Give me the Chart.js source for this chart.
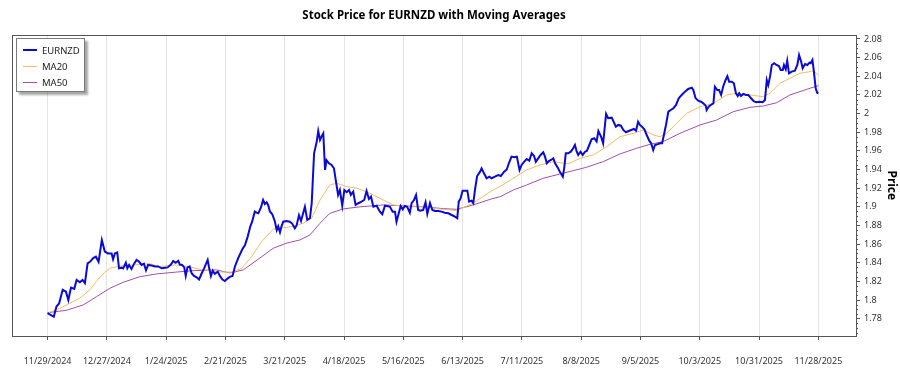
<!DOCTYPE html>
<html><head><meta charset="utf-8">
<script src="https://cdn.jsdelivr.net/npm/chart.js@4.4.1/dist/chart.umd.min.js"></script>
<style>
html,body{margin:0;padding:0;background:#fff;}
#wrap{position:relative;width:900px;height:375px;}
#legend{position:absolute;left:16px;top:38px;width:69px;height:54px;border:1px solid #7a7a7a;background:#fff;box-shadow:3px 3px 2px rgba(0,0,0,0.35);font:9.5px 'Noto Sans',sans-serif;color:#222;box-sizing:border-box;padding:3px 0 0 6px}
.item{display:flex;align-items:center;height:16px;white-space:nowrap}
.swatch{width:14px;margin-right:5px}
</style></head><body>
<div id="wrap"><canvas id="c" width="900" height="375"></canvas><div id="legend"></div></div>
<script>
const TITLE = 'Stock Price for EURNZD with Moving Averages';
const tickLabels = ['11/29/2024','12/27/2024','1/24/2025','2/21/2025','3/21/2025','4/18/2025','5/16/2025','6/13/2025','7/11/2025','8/8/2025','9/5/2025','10/3/2025','10/31/2025','11/28/2025'];
const tickDays = [0,20,40,60,80,100,120,140,160,180,200,220,240,260];
const yTicks = [1.78,1.8,1.82,1.84,1.86,1.88,1.9,1.92,1.94,1.96,1.98,2,2.02,2.04,2.06,2.08];

// trading-day index (0 = 11/29/2024) and EURNZD close
const priceDays = [0,2.1,3.0,3.9,5.1,6.2,7.0,7.9,9.0,9.8,10.9,11.8,12.6,13.5,14.3,15.4,16.3,17.2,18.3,19.3,20.4,21.6,22.1,22.7,23.5,24.1,25.0,25.5,26.4,26.9,27.5,28.3,29.2,30.0,30.9,31.7,32.5,33.2,33.9,35.1,36.2,37.3,38.5,39.6,40.5,41.6,42.4,43.2,44.1,44.6,45.4,46.1,46.6,47.2,47.9,48.6,49.4,50.3,51.1,52.0,52.8,54.0,54.4,55.1,55.7,56.4,57.4,58.1,59.0,59.8,60.7,61.6,62.4,63.2,64.3,65.7,66.6,67.5,68.4,69.0,69.9,70.5,71.1,72.0,72.7,73.3,73.9,74.4,75.0,75.8,76.7,77.3,77.8,78.4,78.9,79.5,80.6,81.7,82.5,83.4,84.0,84.8,85.5,86.2,86.8,87.6,88.5,89.1,89.9,90.8,91.3,91.9,92.4,93.0,93.6,94.1,94.9,95.8,96.6,97.2,98.0,98.6,99.4,100.1,100.9,101.7,102.3,103.1,103.9,104.8,105.9,106.8,107.6,108.4,109.1,109.9,111.0,112.1,112.9,113.8,114.6,115.5,116.4,117.2,117.7,118.4,119.1,119.8,120.5,121.3,122.2,122.8,123.6,124.3,125.0,125.8,126.7,127.5,128.1,129.0,129.8,130.7,131.8,132.9,134.0,135.2,136.3,137.4,138.2,138.7,139.3,140.0,140.9,141.6,142.2,143.0,143.6,144.2,144.9,145.9,146.4,147.2,148.1,149.0,149.8,150.9,152.0,152.9,154.0,154.9,155.6,156.5,157.4,158.3,159.2,159.9,160.8,161.6,162.5,163.3,164.1,164.7,165.5,166.3,167.2,167.8,168.4,169.1,169.8,170.6,171.2,172.1,172.8,173.8,174.3,174.8,175.6,176.5,177.3,177.9,178.5,179.0,179.8,180.5,181.3,181.9,182.6,183.5,184.4,185.2,185.8,186.7,187.4,188.4,189.1,190.3,191.7,192.5,193.4,194.2,195.1,196.0,196.9,197.8,198.5,199.2,199.8,200.5,201.3,202.1,203.0,203.6,204.3,204.9,205.7,206.6,207.3,207.9,208.6,209.4,210.2,211.1,212.0,212.9,213.9,215.0,216.1,217.3,217.8,218.6,219.5,220.4,221.2,222.0,222.3,223.0,223.7,224.6,225.1,225.9,226.5,227.2,227.9,228.7,229.3,229.9,230.8,231.5,232.2,232.8,233.3,233.9,234.7,235.6,236.4,237.3,238.1,239.0,240.1,241.2,242.0,242.6,243.1,243.7,244.3,245.1,245.9,246.7,247.3,248.0,248.4,249.0,249.5,250.1,251.0,252.1,252.9,253.5,254.2,254.7,255.5,256.3,257.0,257.4,258.0,258.5,259.1,259.6,260.0];
const priceValues = [1.786,1.782,1.793,1.7965,1.811,1.809,1.800,1.8134,1.812,1.8215,1.819,1.8215,1.818,1.8394,1.841,1.845,1.8465,1.841,1.8644,1.852,1.850,1.850,1.8437,1.850,1.851,1.834,1.8347,1.834,1.840,1.834,1.8376,1.8333,1.839,1.843,1.841,1.8376,1.839,1.832,1.8376,1.837,1.836,1.836,1.834,1.8347,1.835,1.838,1.842,1.840,1.842,1.838,1.8376,1.835,1.8258,1.835,1.836,1.8287,1.8258,1.8244,1.822,1.8287,1.834,1.843,1.836,1.8258,1.8315,1.828,1.8304,1.8258,1.822,1.8204,1.823,1.8251,1.8258,1.836,1.845,1.8545,1.859,1.868,1.879,1.884,1.8948,1.8937,1.893,1.8995,1.9073,1.903,1.9048,1.902,1.895,1.892,1.884,1.875,1.879,1.8727,1.879,1.884,1.8848,1.884,1.882,1.877,1.880,1.891,1.8848,1.893,1.900,1.886,1.8877,1.904,1.9574,1.970,1.9813,1.9717,1.9752,1.9788,1.9395,1.950,1.9467,1.9449,1.9413,1.9288,1.9127,1.918,1.9012,1.918,1.9156,1.918,1.9127,1.9162,1.902,1.9038,1.9055,1.9073,1.917,1.9084,1.9109,1.900,1.9012,1.8948,1.892,1.9012,1.9009,1.900,1.8948,1.8948,1.884,1.8923,1.9009,1.8973,1.9009,1.900,1.8937,1.904,1.9073,1.9127,1.8966,1.8958,1.8966,1.9048,1.8923,1.904,1.8966,1.8955,1.8955,1.8948,1.8937,1.893,1.8912,1.8894,1.8877,1.9055,1.909,1.9173,1.9173,1.9173,1.9055,1.9066,1.904,1.9188,1.933,1.9377,1.9413,1.936,1.9306,1.9323,1.9306,1.9323,1.9341,1.933,1.9377,1.940,1.9467,1.9538,1.9531,1.9538,1.9395,1.9449,1.9484,1.9513,1.9495,1.9574,1.9545,1.9484,1.952,1.9556,1.9585,1.9538,1.9467,1.9491,1.9502,1.952,1.9467,1.942,1.9377,1.9323,1.9423,1.9574,1.9574,1.9591,1.9627,1.9663,1.9591,1.9556,1.9591,1.9556,1.9591,1.9599,1.9652,1.9724,1.9735,1.970,1.9813,1.9752,1.9681,1.9996,1.995,1.9956,1.986,1.9878,1.987,1.9824,1.980,1.9813,1.9824,1.9835,1.9816,1.9913,1.9878,1.986,1.9831,1.977,1.9706,1.9681,1.9609,1.9663,1.967,1.9681,1.9681,1.977,1.9878,2.002,2.0038,2.0057,2.0092,2.0164,2.020,2.0235,2.0264,2.0278,2.0253,2.0164,2.0138,2.0127,2.011,2.0085,2.0038,2.0074,2.0092,2.011,2.0288,2.0253,2.0253,2.020,2.029,2.036,2.040,2.0342,2.0342,2.0325,2.0218,2.0189,2.0218,2.0189,2.021,2.020,2.020,2.0164,2.0135,2.0121,2.0127,2.0121,2.0146,2.036,2.0307,2.0396,2.0521,2.054,2.0521,2.051,2.0467,2.0467,2.0521,2.0475,2.0567,2.0432,2.045,2.046,2.0521,2.0628,2.0557,2.0486,2.0532,2.0521,2.0546,2.054,2.0575,2.045,2.0271,2.0224,2.0218];

const ma20Days = [0,4.1,7.5,10.9,14.3,16.5,19.3,21.0,24.4,28.9,34.5,37.9,42.9,47.4,52.0,55.8,58.7,62.1,65.5,68.8,72.2,76.1,78.4,82.9,86.2,89.1,91.9,95.2,97.5,100.9,104.3,108.7,113.2,116.6,121.1,126.7,131.2,135.7,138.0,143.6,149.3,152.7,157.1,161.6,166.1,170.6,174.0,176.2,179.6,184.1,188.6,193.1,197.6,200.9,204.3,206.6,208.8,212.2,215.6,220.1,224.6,229.1,232.5,236.9,241.4,243.7,247.1,250.4,253.8,257.2,258.3,260];
const ma20Values = [1.786,1.791,1.7965,1.802,1.811,1.820,1.830,1.834,1.8365,1.8376,1.839,1.836,1.8376,1.836,1.8323,1.8315,1.830,1.830,1.834,1.8465,1.8626,1.876,1.877,1.879,1.8823,1.8877,1.9073,1.9234,1.9252,1.9216,1.920,1.9145,1.9073,1.902,1.900,1.900,1.898,1.8966,1.8958,1.904,1.9162,1.922,1.9306,1.9395,1.9449,1.9484,1.9467,1.9467,1.952,1.9556,1.9645,1.9752,1.9788,1.9824,1.977,1.9752,1.9788,1.9896,2.0003,2.0074,2.011,2.020,2.0218,2.020,2.0181,2.0218,2.0325,2.0379,2.0432,2.045,2.046,2.0414];

const ma50Days = [0,6.4,12.0,16.5,21.0,25.5,31.1,36.8,43.5,49.1,57.0,61.5,66.0,71.6,76.1,80.6,85.1,88.5,91.9,95.2,99.7,105.4,113.2,118.9,126.7,133.5,138.0,143.6,149.3,152.7,157.1,161.6,167.2,172.8,177.3,181.8,187.4,193.1,198.7,203.2,207.7,213.3,220.1,225.7,231.3,236.9,241.4,246.0,250.4,256.1,260];
const ma50Values = [1.7864,1.789,1.7947,1.8036,1.8126,1.819,1.825,1.828,1.830,1.8315,1.8323,1.829,1.8323,1.845,1.8555,1.861,1.8644,1.8698,1.8823,1.893,1.8977,1.900,1.902,1.9012,1.900,1.898,1.8973,1.902,1.908,1.9109,1.918,1.9234,1.9306,1.9352,1.9387,1.9424,1.9484,1.9567,1.9628,1.967,1.970,1.9788,1.9878,1.9931,2.002,2.0067,2.0081,2.0117,2.020,2.026,2.030];

const FONT = "'Noto Sans', 'DejaVu Sans', sans-serif";
Chart.defaults.font.family = FONT;

const pts = (xs, ys) => xs.map((x, i) => ({x, y: ys[i]}));

const frame = {
  id: 'frame',
  afterDraw(chart) {
    const {ctx, chartArea: a} = chart;
    const y = chart.scales.y;
    ctx.save();
    ctx.strokeStyle = '#555';
    ctx.lineWidth = 1;
    ctx.strokeRect(Math.round(a.left) + 0.5, Math.round(a.top) + 0.5, Math.round(a.right - a.left), Math.round(a.bottom - a.top));
    // minor ticks on the price axis
    ctx.beginPath();
    for (let k = 0; k <= 70; k++) {
      const v = 1.76 + k * 0.005;
      if (v < y.min || v > y.max) continue;
      if (Math.abs(v * 50 - Math.round(v * 50)) < 1e-6) continue;
      const py = Math.round(y.getPixelForValue(v)) + 0.5;
      ctx.moveTo(a.right, py); ctx.lineTo(a.right + 2, py);
    }
    ctx.stroke();
    ctx.restore();
  }
};

const chart = new Chart(document.getElementById('c'), {
  type: 'line',
  data: {
    datasets: [
      {label: 'EURNZD', data: pts(priceDays, priceValues), borderColor: '#0a0ad6', borderWidth: 2, pointRadius: 0, tension: 0},
      {label: 'MA20', data: pts(ma20Days, ma20Values), borderColor: '#f4bc63', borderWidth: 1, pointRadius: 0, tension: 0},
      {label: 'MA50', data: pts(ma50Days, ma50Values), borderColor: '#a050ac', borderWidth: 1, pointRadius: 0, tension: 0}
    ]
  },
  options: {
    responsive: false, animation: false, devicePixelRatio: 1,
    layout: {padding: {left: 12, right: 0, top: 0, bottom: 0}},
    plugins: {
      legend: {display: false},
      tooltip: {enabled: false},
      title: {display: true, text: TITLE, fullSize: false, color: '#000',
        font: {size: 11.5, weight: 'bold', family: FONT}, padding: {top: 9, bottom: 11.9}}
    },
    scales: {
      x: {
        type: 'linear', min: -12.0, max: 272.7,
        afterBuildTicks: s => { s.ticks = tickDays.map(v => ({value: v})); },
        afterFit: s => { s.height = 39; },
        ticks: {callback: v => tickLabels[tickDays.indexOf(v)], font: {size: 9}, color: '#333', padding: 16, maxRotation: 0, autoSkip: false},
        grid: {color: '#e4e4e4', tickColor: '#555', tickLength: 4, drawOnChartArea: true},
        border: {display: false}
      },
      y: {
        position: 'right', min: 1.7614, max: 2.0846,
        afterBuildTicks: s => { s.ticks = yTicks.map(v => ({value: v})); },
        afterFit: s => { s.width = 44; },
        ticks: {callback: v => String(+v.toFixed(2)), font: {size: 9}, color: '#333', padding: 4},
        grid: {drawOnChartArea: false, tickColor: '#555', tickLength: 4},
        border: {display: false},
        title: {display: true, text: 'Price', color: '#000', font: {size: 12, weight: 'bold'}, padding: {top: 1, bottom: 0}}
      }
    }
  },
  plugins: [frame]
});

// HTML legend built from the datasets
const lg = document.getElementById('legend');
chart.data.datasets.forEach(ds => {
  const it = document.createElement('div'); it.className = 'item';
  const sw = document.createElement('span'); sw.className = 'swatch';
  sw.style.borderTop = ds.borderWidth + 'px solid ' + ds.borderColor;
  const tx = document.createElement('span'); tx.textContent = ds.label;
  it.appendChild(sw); it.appendChild(tx); lg.appendChild(it);
});
</script>
</body></html>
